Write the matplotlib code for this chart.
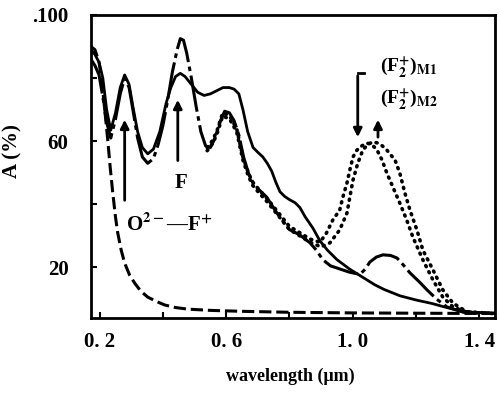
import matplotlib
matplotlib.use("Agg")
import matplotlib.pyplot as plt

# solid curve (lower peak at 0.46, upper shoulder at 0.62)
x_a = [0.172, 0.185, 0.198, 0.21, 0.222, 0.235, 0.25, 0.265, 0.279, 0.293, 0.305, 0.32, 0.335,
       0.352, 0.37, 0.39, 0.41, 0.425, 0.44, 0.455, 0.47, 0.49, 0.51, 0.53, 0.55, 0.57, 0.59,
       0.61, 0.625, 0.64, 0.653, 0.668, 0.685, 0.70, 0.716, 0.73, 0.744, 0.757, 0.77, 0.785,
       0.80, 0.818, 0.833, 0.85, 0.874, 0.896, 0.92, 0.95, 0.99, 1.03, 1.07, 1.10, 1.15,
       1.20, 1.25, 1.29, 1.33, 1.38, 1.45]
y_a = [89, 87.5, 85, 80, 70, 63.5, 69, 77, 81, 78, 71, 63, 58,
       56, 57.5, 63, 72, 77, 80.5, 81.5, 80.5, 78, 75.5, 74.5, 75, 76, 77,
       77, 76.5, 75, 70, 63, 58, 56.5, 55, 53, 50.5, 47, 44, 42.5,
       41.5, 40.5, 39, 36, 32.5, 28.5, 25.5, 22.5, 19.5, 17, 14.5, 13, 11,
       9.7, 8.6, 7.5, 6.5, 5.8, 5.5]

# dash-dot curve (peak 93 at 0.46, small band at 1.1)
x_b = [0.172, 0.185, 0.198, 0.21, 0.222, 0.235, 0.25, 0.265, 0.279, 0.293, 0.305, 0.32, 0.335,
       0.352, 0.37, 0.385, 0.40, 0.415, 0.43, 0.445, 0.455, 0.465, 0.475, 0.49, 0.505, 0.52,
       0.535, 0.55, 0.565, 0.58, 0.595, 0.61, 0.625, 0.64, 0.655, 0.67, 0.684, 0.705, 0.728,
       0.76, 0.80, 0.833, 0.865, 0.885, 0.906, 0.93, 0.96, 0.99, 1.023, 1.04, 1.054, 1.075,
       1.096, 1.12, 1.14, 1.16, 1.181, 1.21, 1.235, 1.265, 1.298, 1.35, 1.45]
y_b = [86, 84, 81, 74, 66, 61, 67, 75, 80, 77, 70, 61, 55,
       53, 54.5, 59, 65, 73, 82, 89, 92.5, 92, 88, 80, 71, 63,
       58.5, 58, 61, 66, 69.5, 69, 66.5, 62, 55, 50, 47, 44.5, 42.3,
       37.3, 32, 30.3, 27.8, 25.5, 22.4, 20.5, 19.5, 18.5, 17.8, 19.5, 21.7, 23.3,
       24, 23.8, 23, 20.8, 18.3, 15.5, 12.9, 10, 7.5, 5.8, 5.5]

# dotted curves, (F2+)M1 and (F2+)M2 bands
x_c = [0.54, 0.555, 0.57, 0.589, 0.611, 0.633, 0.653, 0.67, 0.684, 0.705, 0.728, 0.76, 0.80,
       0.833, 0.865, 0.896, 0.915, 0.937, 0.959, 0.969, 0.982, 0.991, 1.001, 1.012, 1.023,
       1.045, 1.06, 1.077, 1.093, 1.108, 1.127, 1.149, 1.171, 1.19, 1.222, 1.254, 1.285,
       1.317, 1.36, 1.45]
y_c = [58, 60, 63, 69, 68, 64, 55, 50, 47, 44.5, 42, 38, 33,
       31, 29, 28, 30.5, 35, 38.2, 42.3, 46.8, 50.9, 55, 57, 58.2,
       59.4, 59, 57.2, 54, 49.9, 45.5, 40.4, 35, 29.7, 22.4, 16, 10.6,
       7.5, 5.8, 5.4]

x_d = [0.54, 0.555, 0.57, 0.589, 0.611, 0.633, 0.653, 0.67, 0.684, 0.705, 0.728, 0.76, 0.80,
       0.833, 0.865, 0.90, 0.928, 0.959, 0.982, 0.991, 1.001, 1.016, 1.032, 1.048, 1.064,
       1.08, 1.094, 1.108, 1.134, 1.149, 1.165, 1.181, 1.203, 1.222, 1.254, 1.285, 1.317,
       1.36, 1.45]
y_d = [57, 59, 62, 68, 67, 63, 54, 49, 46, 43.5, 41, 37, 32,
       30, 28, 26.5, 27.8, 31.9, 37.3, 42.3, 47.7, 53, 57.2, 59, 59.8,
       59.4, 58.5, 57.2, 54, 49.9, 43.6, 38.2, 31.9, 25.5, 19.2, 12.9, 8.7,
       6, 5.4]

# dashed curve (steep UV edge)
x_e = [0.172, 0.185, 0.198, 0.207, 0.215, 0.225, 0.233, 0.241, 0.25, 0.257, 0.268, 0.279,
       0.295, 0.311, 0.33, 0.352, 0.38, 0.406, 0.44, 0.478, 0.55, 0.65, 0.80, 1.0, 1.2, 1.45]
y_e = [90, 89, 85, 79, 71, 61, 52, 44, 36, 31, 25.5, 21.4,
       17.5, 15, 12.5, 10.6, 9.2, 8.1, 7.3, 6.8, 6.4, 6.1, 5.8, 5.6, 5.5, 5.4]

x_ticks = [0.2, 0.6, 1.0, 1.4]
x_ticklabels = ["0. 2", "0. 6", "1. 0", "1. 4"]
y_ticks = [20, 60, 100]
y_ticklabels = ["20", "60", ".100"]

plt.rcParams["font.family"] = ["Liberation Serif", "DejaVu Serif"]
plt.rcParams["font.weight"] = "bold"
plt.rcParams["mathtext.fontset"] = "stix"

fig = plt.figure(figsize=(4.99, 3.94), dpi=100)
ax = fig.add_axes([0.182, 0.193, 0.810, 0.769])

ax.plot(x_a, y_a, color="black", lw=2.0)
ax.plot(x_b, y_b, color="black", lw=2.2, linestyle=(0, (12, 1.5, 1.5, 1.5)))
ax.plot(x_c, y_c, color="black", lw=2.6, linestyle=(0, (0.3, 1.6)), dash_capstyle="round")
ax.plot(x_d, y_d, color="black", lw=2.6, linestyle=(0, (0.3, 1.6)), dash_capstyle="round")
ax.plot(x_e, y_e, color="black", lw=2.2, linestyle=(0, (4, 1.6)))

ax.set_xlim(0.172, 1.45)
ax.set_ylim(4, 100)
ax.set_xticks(x_ticks)
ax.set_xticklabels(x_ticklabels)
ax.set_xticks([0.4, 0.8, 1.2], minor=True)
ax.set_yticks(y_ticks)
ax.set_yticklabels(y_ticklabels)
ax.set_yticks([40, 80], minor=True)
ax.tick_params(axis="both", which="both", direction="in", width=1.5, length=4)
ax.tick_params(axis="x", labelsize=15, pad=10)
ax.tick_params(axis="y", labelsize=15, pad=16)
for s in ax.spines.values():
    s.set_linewidth(2.0)

ax.set_xlabel("wavelength (μm)", fontsize=13, fontweight="bold")
ax.xaxis.set_label_coords(0.493, -0.165)
ax.set_ylabel("A (%)", fontsize=15, fontweight="bold")
ax.yaxis.set_label_coords(-0.17, 0.55)

arr = dict(arrowstyle="-|>,head_width=0.25,head_length=0.5", color="black", lw=2)
# F band
ax.annotate("", xy=(0.447, 74), xytext=(0.447, 53), arrowprops=arr)
ax.text(0.456, 46.8, "F", fontsize=15, fontweight="bold", ha="center", va="center")
# O2- -> F+ charge transfer
ax.annotate("", xy=(0.279, 67.7), xytext=(0.279, 40.4), arrowprops=arr)
ax.text(0.282, 33.5, r"O$^{\mathbf{2-}}$—F$^{\mathbf{+}}$", fontsize=15, fontweight="bold",
        ha="left", va="center")
# M1 / M2 bands
ax.annotate("", xy=(1.016, 60.4), xytext=(1.016, 81.6), arrowprops=arr)
ax.plot([1.016, 1.035], [81.6, 81.6], color="black", lw=2)
ax.annotate("", xy=(1.08, 67.7), xytext=(1.08, 60.4), arrowprops=arr)
ax.text(1.086, 83.2, r"(F$_{\mathbf{2}}^{\mathbf{+}}$)$_{\mathbf{M1}}$", fontsize=14,
        fontweight="bold", ha="left", va="center")
ax.text(1.086, 73.0, r"(F$_{\mathbf{2}}^{\mathbf{+}}$)$_{\mathbf{M2}}$", fontsize=14,
        fontweight="bold", ha="left", va="center")

plt.savefig("out.png", dpi=100)
